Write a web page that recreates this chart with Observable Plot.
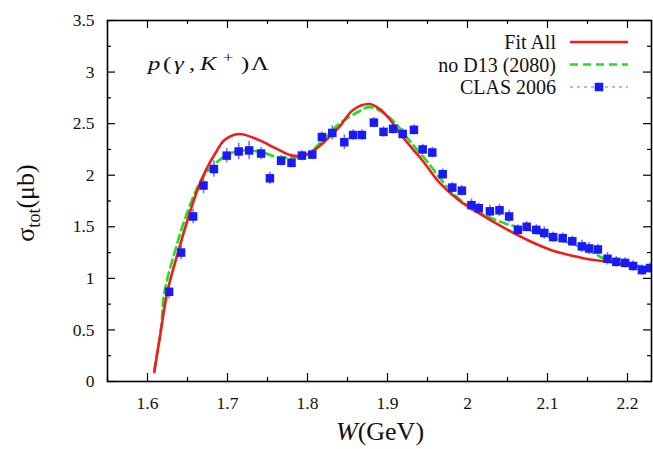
<!DOCTYPE html>
<html>
<head>
<meta charset="utf-8">
<script src="https://cdn.jsdelivr.net/npm/d3@7"></script>
<script src="https://cdn.jsdelivr.net/npm/@observablehq/plot@0.6"></script>
<style>
  body { margin: 0; background: #fff; }
  #chart { width: 653px; height: 449px; }
  #chart svg { display: block; }
  #chart svg, #chart svg text { font-family: "Liberation Serif", "Times New Roman", Times, "DejaVu Serif", serif; }
</style>
</head>
<body>
<div id="chart"></div>
<script>
// CLAS 2006 total cross section for p(γ,K+)Λ
const clasW = [1.627, 1.642, 1.657, 1.670, 1.683, 1.699, 1.714, 1.727, 1.742, 1.753,
  1.767, 1.780, 1.793, 1.806, 1.818, 1.831, 1.846, 1.857, 1.868, 1.883,
  1.895, 1.907, 1.919, 1.933, 1.944, 1.956, 1.969, 1.981, 1.993, 2.005,
  2.014, 2.028, 2.040, 2.052, 2.063, 2.074, 2.086, 2.096, 2.107, 2.119,
  2.131, 2.143, 2.152, 2.163, 2.175, 2.186, 2.197, 2.207, 2.218, 2.228];
const clasSigma = [0.87, 1.25, 1.60, 1.90, 2.06, 2.19, 2.23, 2.24, 2.21, 1.97,
  2.14, 2.12, 2.19, 2.20, 2.37, 2.41, 2.32, 2.39, 2.39, 2.51,
  2.42, 2.45, 2.40, 2.44, 2.25, 2.22, 2.01, 1.88, 1.85, 1.71,
  1.68, 1.65, 1.66, 1.60, 1.47, 1.50, 1.47, 1.44, 1.40, 1.39,
  1.36, 1.31, 1.29, 1.28, 1.19, 1.16, 1.15, 1.12, 1.08, 1.10];
const clasErr = [0.07, 0.07, 0.07, 0.08, 0.08, 0.07, 0.08, 0.09, 0.06, 0.06,
  0.05, 0.05, 0.05, 0.05, 0.05, 0.07, 0.07, 0.05, 0.05, 0.05,
  0.05, 0.05, 0.05, 0.05, 0.05, 0.05, 0.05, 0.05, 0.05, 0.06,
  0.05, 0.06, 0.06, 0.06, 0.05, 0.05, 0.05, 0.06, 0.05, 0.05,
  0.05, 0.06, 0.06, 0.05, 0.06, 0.05, 0.05, 0.05, 0.05, 0.05];

// Model curve: full fit
const fitW = [1.6085, 1.6175, 1.625, 1.6388, 1.651, 1.6638, 1.673, 1.6846, 1.696, 1.7146,
  1.7396, 1.7605, 1.781, 1.802, 1.819, 1.840, 1.8565, 1.877, 1.8896, 1.902,
  1.919, 1.944, 1.9646, 1.9896, 2.0146, 2.048, 2.081, 2.106, 2.131, 2.156,
  2.177, 2.200, 2.230];
const fitSigma = [0.09, 0.53, 0.876, 1.27, 1.59, 1.885, 2.05, 2.21, 2.34, 2.40,
  2.34, 2.26, 2.19, 2.21, 2.31, 2.47, 2.63, 2.69, 2.645, 2.55,
  2.37, 2.14, 1.93, 1.755, 1.63, 1.48, 1.35, 1.27, 1.22, 1.18,
  1.16, 1.13, 1.10];

// Model curve: fit without the D13(2080) resonance
const noD13W = [1.6083, 1.6167, 1.621, 1.6346, 1.647, 1.6605, 1.671, 1.6855, 1.698, 1.7105,
  1.727, 1.744, 1.7605, 1.777, 1.794, 1.802, 1.819, 1.840, 1.8646, 1.877,
  1.894, 1.9105, 1.927, 1.952, 1.9646, 1.9896, 2.0146, 2.048, 2.073, 2.102,
  2.131, 2.156, 2.177, 2.198, 2.230];
const noD13Sigma = [0.11, 0.50, 0.86, 1.27, 1.58, 1.85, 2.00, 2.12, 2.19, 2.23,
  2.24, 2.22, 2.18, 2.17, 2.18, 2.21, 2.34, 2.50, 2.62, 2.66,
  2.61, 2.50, 2.34, 2.11, 1.98, 1.77, 1.64, 1.53, 1.48, 1.40,
  1.335, 1.25, 1.17, 1.135, 1.11];

const xTicks = [1.6, 1.7, 1.8, 1.9, 2.0, 2.1, 2.2];
const xMinor = [1.55, 1.65, 1.75, 1.85, 1.95, 2.05, 2.15];
const yTicks = [0, 0.5, 1, 1.5, 2, 2.5, 3, 3.5];
const yMinor = [0.25, 0.75, 1.25, 1.75, 2.25, 2.75, 3.25];

const legendItems = ["Fit All", "no D13 (2080)", "CLAS 2006"];

const clas = clasW.map((w, i) => ({w, s: clasSigma[i], e: clasErr[i]}));
const fit = fitW.map((w, i) => ({w, s: fitSigma[i]}));
const noD13 = noD13W.map((w, i) => ({w, s: noD13Sigma[i]}));

const W = 653, H = 449;
const mL = 107, mR = 2, mT = 20, mB = 68;
const frameW = W - mL - mR, frameH = H - mT - mB;
const major = 8, minor = 4;

const RED = "#f21c1c", GREEN = "#1ee01e", BLUE = "#1a1af5", ERR = "#6d6dff";
const serif = "'Liberation Serif', 'Times New Roman', Times, 'DejaVu Serif', serif";

// inward ticks on all four sides of the frame
function ticksX(vals, len) {
  return [
    Plot.ruleX(vals, {x: d => d, insetTop: frameH - len, stroke: "#000", strokeWidth: 1.2}),
    Plot.ruleX(vals, {x: d => d, insetBottom: frameH - len, stroke: "#000", strokeWidth: 1.2})
  ];
}
function ticksY(vals, len) {
  return [
    Plot.ruleY(vals, {y: d => d, insetRight: frameW - len, stroke: "#000", strokeWidth: 1.2}),
    Plot.ruleY(vals, {y: d => d, insetLeft: frameW - len, stroke: "#000", strokeWidth: 1.2})
  ];
}

const svgNode = Plot.plot({
  width: W,
  height: H,
  marginLeft: mL,
  marginRight: mR,
  marginTop: mT,
  marginBottom: mB,
  style: {fontFamily: serif, fontSize: "17.5px", background: "#fff", color: "#111"},
  x: {domain: [1.55, 2.23]},
  y: {domain: [0, 3.5]},
  marks: [
    Plot.axisX(xTicks, {tickSize: 0, tickPadding: 15, label: null, fontFamily: serif, tickFormat: d => d3.format("~g")(d)}),
    Plot.axisY(yTicks, {tickSize: 0, tickPadding: 13, label: null, fontFamily: serif, tickFormat: d => d3.format("~g")(d)}),
    ...ticksX(xTicks, major), ...ticksX(xMinor, minor),
    ...ticksY(yTicks, major), ...ticksY(yMinor, minor),
    Plot.ruleX(clas, {x: "w", y1: d => d.s - d.e, y2: d => d.s + d.e, stroke: ERR, strokeWidth: 1.5, clip: true}),
    Plot.line(noD13, {x: "w", y: "s", stroke: GREEN, strokeWidth: 2.6, strokeDasharray: "8,5", curve: "catmull-rom", clip: true}),
    Plot.line(fit, {x: "w", y: "s", stroke: RED, strokeWidth: 2.6, curve: "catmull-rom", clip: true}),
    Plot.dot(clas, {x: "w", y: "s", symbol: "square", r: 4.8, fill: BLUE, stroke: "none", clip: true}),
    Plot.frame({stroke: "#000", strokeWidth: 1.6})
  ]
});

document.getElementById("chart").appendChild(svgNode);
const svg = d3.select(svgNode);

// reaction label p(γ,K+)Λ, set in a wide math-style face
const reacScale = 1.3;
const reacParts = [
  {t: "p", x: 0, italic: true},
  {t: "(", x: 15},
  {t: "γ", x: 26, italic: true},
  {t: ",", x: 41},
  {t: "K", x: 52, italic: true},
  {t: "+", x: 75, size: 14, dy: -8},
  {t: ")", x: 93},
  {t: "Λ", x: 103}
];
const reac = svg.append("text")
  .attr("transform", `translate(148,70) scale(${reacScale},1)`)
  .attr("text-anchor", "start")
  .style("font-family", serif).attr("font-size", 19).attr("fill", "#111");
let prevDy = 0;
reacParts.forEach(p => {
  const dy = (p.dy || 0) - prevDy;
  prevDy = p.dy || 0;
  const ts = reac.append("tspan").attr("x", p.x / reacScale).attr("dy", dy).text(p.t);
  if (p.italic) ts.attr("font-style", "italic");
  if (p.size) ts.attr("font-size", p.size);
});

// legend
const legendStyles = [
  {stroke: RED, width: 2.6, dash: null},
  {stroke: GREEN, width: 2.6, dash: "8,5"},
  {stroke: ERR, width: 1.2, dash: "3,4"}
];
legendItems.forEach((name, i) => {
  const cy = 42 + i * 22.5;
  svg.append("text")
    .attr("x", 556).attr("y", cy + 7)
    .attr("text-anchor", "end")
    .style("font-family", serif).attr("font-size", 20).attr("fill", "#111")
    .text(name);
  const st = legendStyles[i];
  svg.append("line")
    .attr("x1", 570).attr("x2", 628).attr("y1", cy).attr("y2", cy)
    .attr("stroke", st.stroke).attr("stroke-width", st.width)
    .attr("stroke-dasharray", st.dash);
  if (i === 2) {
    svg.append("rect").attr("x", 599 - 4.25).attr("y", cy - 4.25)
      .attr("width", 8.5).attr("height", 8.5).attr("fill", BLUE);
  }
});

// axis titles
const xt = svg.append("text")
  .attr("x", 380).attr("y", 440).attr("text-anchor", "middle")
  .style("font-family", serif).attr("font-size", 26).attr("fill", "#111");
xt.append("tspan").attr("font-style", "italic").text("W");
xt.append("tspan").text("(GeV)");

const yt = svg.append("text")
  .attr("transform", "translate(34,203) rotate(-90)")
  .attr("text-anchor", "middle")
  .style("font-family", serif).attr("font-size", 26).attr("fill", "#111");
yt.append("tspan").text("σ");
yt.append("tspan").attr("font-size", 18).attr("dy", 6).text("tot");
yt.append("tspan").attr("dy", -6).text("(μb)");
</script>
</body>
</html>
